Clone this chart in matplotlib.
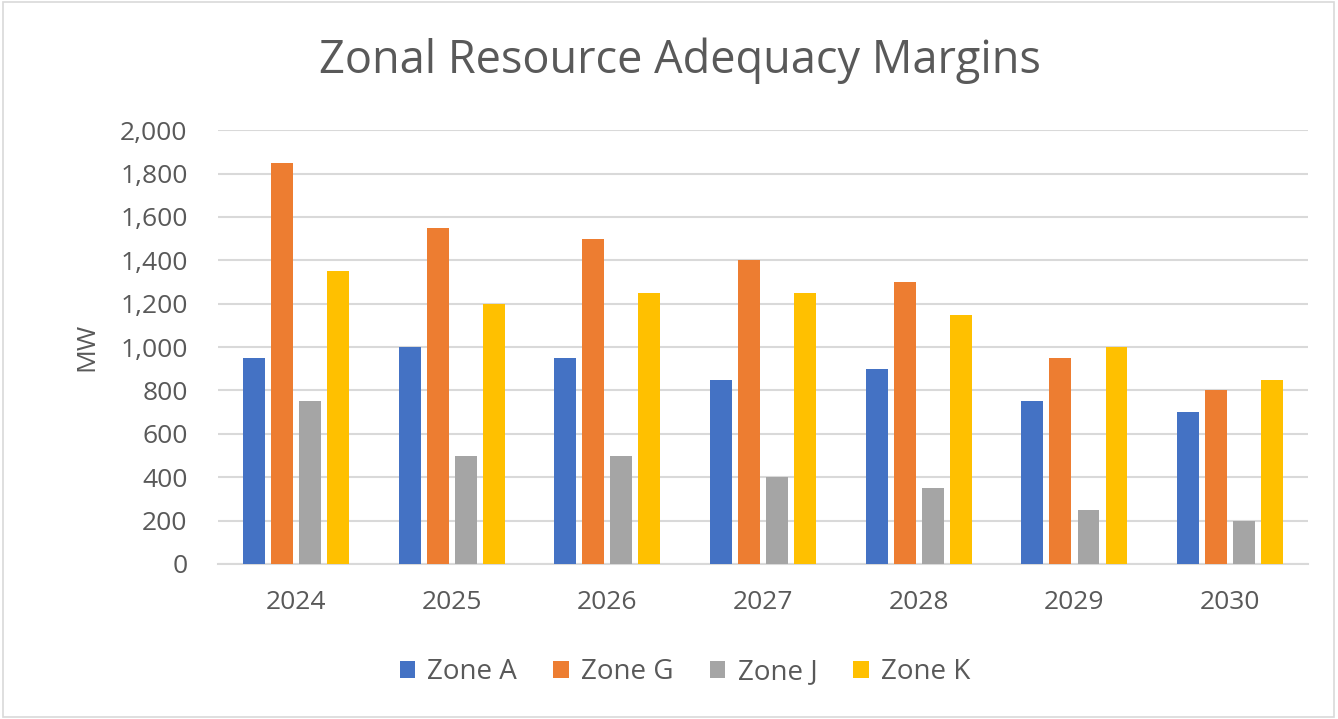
import numpy as np
import matplotlib
matplotlib.use("Agg")
import matplotlib.pyplot as plt
from matplotlib.ticker import FuncFormatter

years = ["2024", "2025", "2026", "2027", "2028", "2029", "2030"]
zone_a = [950, 1000, 950, 850, 900, 750, 700]
zone_g = [1850, 1550, 1500, 1400, 1300, 950, 800]
zone_j = [750, 500, 500, 400, 350, 250, 200]
zone_k = [1350, 1200, 1250, 1250, 1150, 1000, 850]

series = [("Zone A", zone_a, "#4472C4"),
          ("Zone G", zone_g, "#ED7D31"),
          ("Zone J", zone_j, "#A5A5A5"),
          ("Zone K", zone_k, "#FFC000")]

plt.rcParams['font.family'] = ['Open Sans', 'DejaVu Sans']
txt = "#595959"

fig = plt.figure(figsize=(13.38, 7.19), dpi=100)
ax = fig.add_axes([0.163, 0.2156, 0.8146, 0.6034])

x = np.arange(len(years))
w = 0.141
pitch = 0.18
for i, (name, vals, col) in enumerate(series):
    ax.bar(x + (i - 1.5) * pitch, vals, width=w, color=col, label=name, zorder=3)

ax.set_xlim(-0.5, len(years) - 0.5)
ax.set_ylim(0, 2000)
ax.set_yticks(range(0, 2001, 200))
ax.yaxis.set_major_formatter(FuncFormatter(lambda v, p: f"{int(v):,}"))
ax.set_xticks(x)
ax.set_xticklabels(years)
ax.grid(axis='y', color='#d9d9d9', linewidth=1.5, zorder=0)
for s in ['top', 'right', 'left']:
    ax.spines[s].set_visible(False)
ax.spines['bottom'].set_color('#d9d9d9')
ax.spines['bottom'].set_linewidth(1.5)
ax.tick_params(axis='both', length=0, labelsize=19, colors=txt)
ax.tick_params(axis='x', pad=19)
ax.tick_params(axis='y', pad=22)
ax.set_ylabel("MW", fontsize=19, color=txt, labelpad=15)

fig.suptitle("Zonal Resource Adequacy Margins", fontsize=32.5, color=txt,
             x=0.508, y=0.915, va='center')

fig.legend(loc='center', bbox_to_anchor=(0.512, 0.065), ncol=4, frameon=False,
           fontsize=20, handlelength=0.55, handleheight=0.55, handletextpad=0.45,
           columnspacing=1.3, labelcolor=txt)

fig.patches.append(plt.Rectangle((0.002, 0.003), 0.995, 0.994, transform=fig.transFigure,
                                 fill=False, edgecolor='#d9d9d9', linewidth=1.2))

fig.savefig("out.png", dpi=100)
